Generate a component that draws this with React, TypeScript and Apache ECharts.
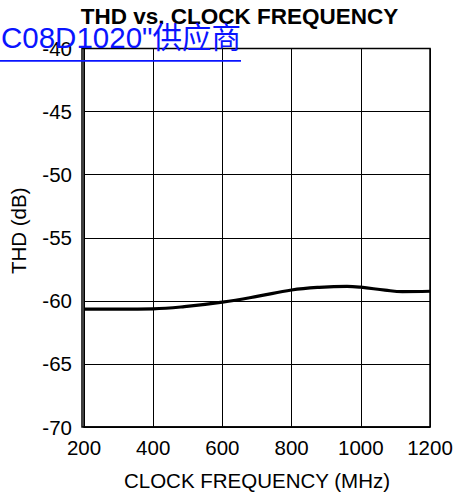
import React, { useEffect, useRef } from "react";
import * as echarts from "echarts";

const titleText = "THD vs. CLOCK FREQUENCY";
const watermark = "C08D1020\"供应商";
const xTicks = [200, 400, 600, 800, 1000, 1200];
const yTicks = [-70, -65, -60, -55, -50, -45, -40];
const freqMHz = [200, 300, 400, 490, 600, 700, 800, 880, 960, 1000, 1070, 1120, 1200];
const thdDb = [-60.65, -60.65, -60.63, -60.46, -60.1, -59.65, -59.14, -58.93, -58.85, -58.92, -59.15, -59.27, -59.24];

export default function App() {
  const ref = useRef<HTMLDivElement>(null);
  useEffect(() => {
    if (!ref.current) return;
    const chart = echarts.init(ref.current, null, { renderer: "svg" });
    const font = "'Liberation Sans', Arial, sans-serif";
    chart.setOption({
      animation: false,
      backgroundColor: "#ffffff",
      title: {
        text: titleText,
        left: 234.5,
        textAlign: "center",
        top: 0,
        textStyle: { fontFamily: font, fontSize: 22.5, fontWeight: "bold", color: "#000" },
      },
      grid: { left: 82, right: 26, top: 48.5, bottom: 70, show: false },
      xAxis: {
        type: "value",
        min: 200,
        max: 1200,
        interval: 200,
        name: "CLOCK FREQUENCY (MHz)",
        nameLocation: "middle",
        nameGap: 43,
        nameTextStyle: { fontFamily: font, fontSize: 20.5, color: "#000" },
        axisLine: { show: true, onZero: false, lineStyle: { color: "#000", width: 1.5 } },
        axisTick: { show: false },
        splitLine: { show: true, lineStyle: { color: "#000", width: 1 } },
        axisLabel: {
          fontFamily: font,
          fontSize: 20.5,
          color: "#000",
          margin: 10,
          formatter: (v: number) => (xTicks.includes(v) ? String(v) : ""),
        },
      },
      yAxis: {
        type: "value",
        min: -70,
        max: -40,
        interval: 5,
        name: "THD (dB)",
        nameLocation: "middle",
        nameGap: 55,
        nameTextStyle: { fontFamily: font, fontSize: 20.5, color: "#000", padding: [0, 0, 0, 14] },
        axisLine: { show: true, onZero: false, lineStyle: { color: "#000", width: 1.5 } },
        axisTick: { show: false },
        splitLine: { show: true, lineStyle: { color: "#000", width: 1 } },
        axisLabel: {
          fontFamily: font,
          fontSize: 20.5,
          color: "#000",
          margin: 12,
          formatter: (v: number) => (yTicks.includes(v) ? String(v) : ""),
        },
      },
      graphic: [
        {
          type: "rect",
          shape: { x: 82, y: 48.5, width: 348, height: 378.5 },
          style: { fill: "none", stroke: "#000", lineWidth: 1.5 },
          z: 5,
        },
        {
          type: "text",
          left: 1,
          top: 23,
          style: {
            text: watermark,
            fontFamily: "'Liberation Sans', 'Noto Sans CJK SC', sans-serif",
            fontSize: 29.5,
            fill: "#0a14ff",
          },
          z: 10,
        },
        {
          type: "rect",
          shape: { x: 0, y: 60, width: 241, height: 1.8 },
          style: { fill: "#0a14ff" },
          z: 10,
        },
      ],
      series: [
        {
          type: "line",
          data: freqMHz.map((f, i) => [f, thdDb[i]]),
          smooth: 0.4,
          showSymbol: false,
          lineStyle: { color: "#000", width: 3.2 },
          z: 6,
        },
      ],
    });
    return () => chart.dispose();
  }, []);
  return (
    <div
      ref={ref}
      style={{ position: "fixed", left: 0, top: 0, width: 456, height: 497 }}
    />
  );
}
